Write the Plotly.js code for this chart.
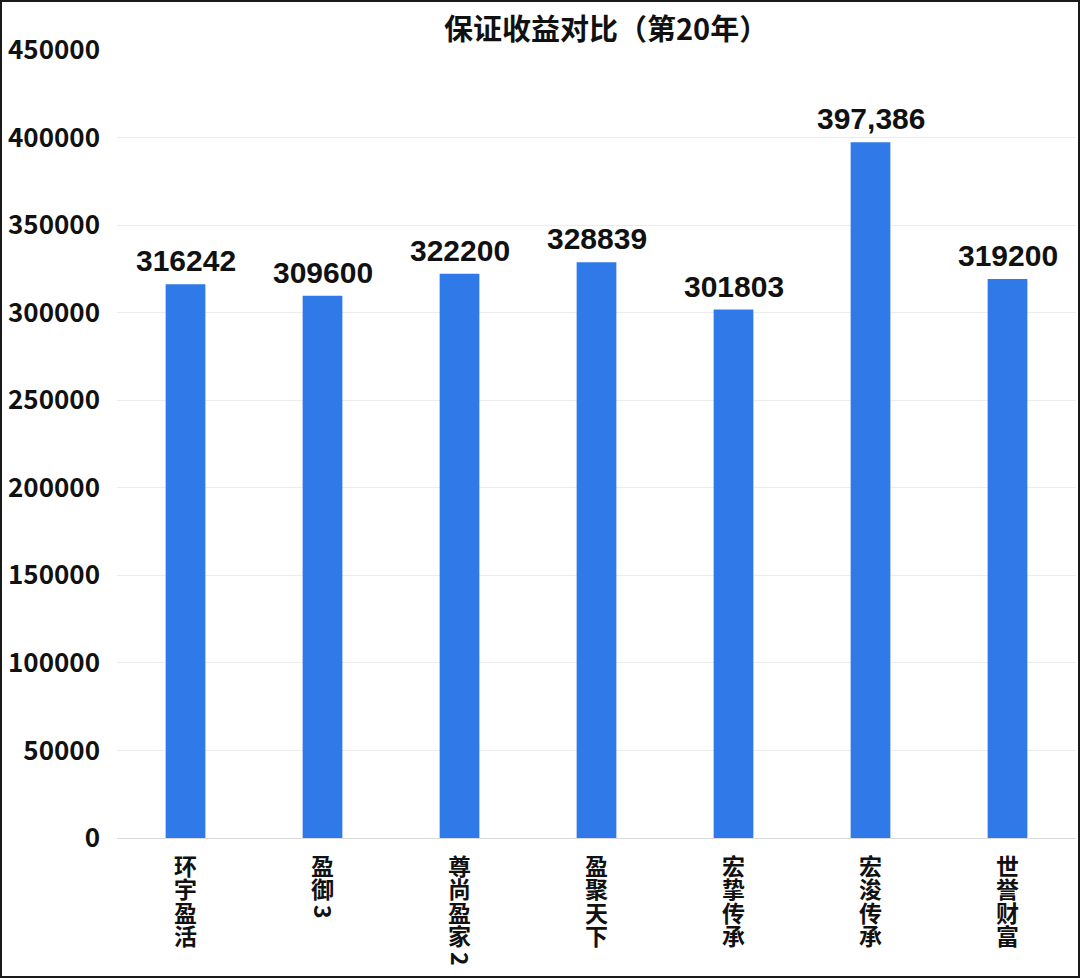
<!DOCTYPE html>
<html>
<head>
<meta charset="utf-8">
<script src="https://cdn.plot.ly/plotly-3.0.1.min.js"></script>
<style>
  html, body { margin: 0; padding: 0; background: #fff; }
  #chart { width: 1080px; height: 978px; }
  #frame { position: absolute; left: 0; top: 0; width: 1080px; height: 978px; box-sizing: border-box;
           border: 2px solid #1a1a1a; pointer-events: none; }
</style>
</head>
<body>
<div id="chart"></div>
<div id="frame"></div>
<script>
const categories = ['环宇盈活', '盈御3', '尊尚盈家2', '盈聚天下', '宏挚传承', '宏浚传承', '世誉财富'];
const values = [316242, 309600, 322200, 328839, 301803, 397386, 319200];
const valueLabels = ['316242', '309600', '322200', '328839', '301803', '397,386', '319200'];
const yTicks = [0, 50000, 100000, 150000, 200000, 250000, 300000, 350000, 400000, 450000];

const tickText = categories.map(c => Array.from(c).join('<br>'));

const trace = {
  type: 'bar',
  x: categories,
  y: values,
  marker: { color: '#2f7ae8' },
  hoverinfo: 'skip'
};

const annotations = categories.map((c, i) => ({
  x: c, y: values[i], text: '<b>' + valueLabels[i] + '</b>',
  showarrow: false, yanchor: 'bottom', yshift: 5,
  font: { family: 'Liberation Sans, Arial, sans-serif', size: 30, color: '#111' }
}));

const layout = {
  width: 1080, height: 978,
  margin: { l: 117, r: 4, t: 50, b: 140 },
  paper_bgcolor: '#fff', plot_bgcolor: '#fff',
  showlegend: false,
  bargap: 0.71,
  title: {
    text: '<b>保证收益对比（第20年）</b>',
    x: 0.51, xanchor: 'center', xref: 'paper',
    y: 0.969, yanchor: 'middle', yref: 'container',
    font: { family: 'Noto Sans CJK SC, sans-serif', size: 29, color: '#111' }
  },
  xaxis: {
    type: 'category',
    tickvals: categories,
    ticktext: tickText.map(t => '<b>' + t + '</b>'),
    tickangle: 0,
    showline: true, linecolor: '#d9d9d9', linewidth: 1,
    ticks: '', showgrid: false,
    ticklabelstandoff: 8,
    tickfont: { family: 'Noto Sans CJK SC, sans-serif', size: 23, color: '#111' }
  },
  yaxis: {
    range: [0, 450000],
    tickvals: yTicks,
    ticktext: yTicks.map(v => '<b>' + v + '</b>'),
    showgrid: true, gridcolor: '#ececec', gridwidth: 1,
    zeroline: false, showline: false, ticks: '',
    ticklabelstandoff: 16,
    tickfont: { family: 'Noto Sans CJK SC, sans-serif', size: 26, color: '#111' }
  },
  annotations: annotations
};

Plotly.newPlot('chart', [trace], layout, { displayModeBar: false, staticPlot: true }).then(gd => {
  // stack the category characters with a line height of ~1em, like the reference;
  // digits are turned 90° clockwise as in vertical CJK typesetting
  gd.querySelectorAll('.xtick text').forEach(t => {
    t.querySelectorAll('tspan.line').forEach((ts, i) => {
      const isDigit = /^[0-9]$/.test(ts.textContent.trim());
      if (isDigit) {
        ts.setAttribute('dy', (i * 1.02 - 0.72).toFixed(2) + 'em');
        ts.setAttribute('dx', '-0.09em');
        ts.setAttribute('rotate', '90');
        ts.querySelectorAll('tspan').forEach(s => s.setAttribute('rotate', '90'));
      } else {
        ts.setAttribute('dy', (i * 1.02).toFixed(2) + 'em');
      }
    });
  });
});
</script>
</body>
</html>
